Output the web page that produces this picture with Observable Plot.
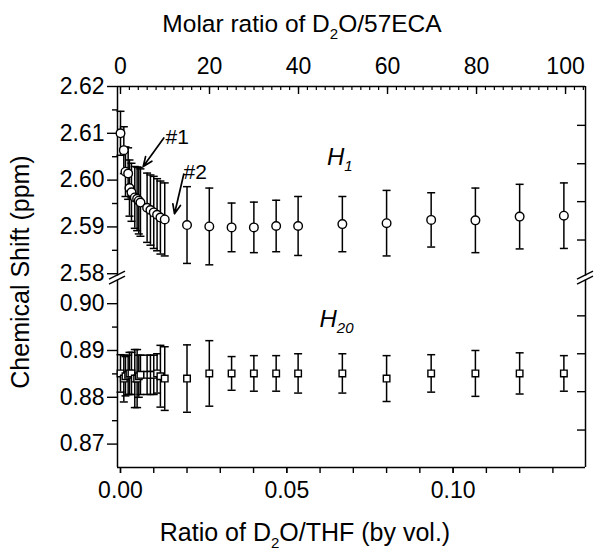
<!DOCTYPE html>
<html><head><meta charset="utf-8">
<script src="https://cdn.jsdelivr.net/npm/d3@7"></script>
<script src="https://cdn.jsdelivr.net/npm/@observablehq/plot@0.6"></script>
<style>
body{margin:0;background:#fff}
svg{font-family:"Liberation Sans",Arial,Helvetica,sans-serif}
</style>
</head><body><div id="chart"></div>
<script>
// ---- data ----
const volRatio = [0.0000,0.0010,0.0015,0.0023,0.0027,0.0033,0.0043,0.0050,0.0055,0.0060,0.0080,0.0090,0.0100,0.0110,0.0120,0.0133,
                  0.0200,0.0267,0.0334,0.0401,0.0468,0.0534,0.0667,0.0800,0.0934,0.1067,0.1200,0.1333];
const h1Shift = [2.6100,2.6064,2.6018,2.6014,2.5983,2.5974,2.5963,2.5960,2.5956,2.5952,2.5941,2.5936,2.5931,2.5926,2.5920,2.5916,
                 2.5904,2.5901,2.5899,2.5899,2.5902,2.5902,2.5906,2.5908,2.5915,2.5914,2.5922,2.5924];
const h1Err = [0.0047,0.0050,0.0053,0.0055,0.0060,0.0062,0.0066,0.0068,0.0071,0.0072,0.0074,0.0075,0.0077,0.0077,0.0078,0.0078,
               0.0082,0.0082,0.0052,0.0054,0.0055,0.0063,0.0059,0.0070,0.0058,0.0069,0.0069,0.0070];
const h20Shift = [0.8851,0.8840,0.8845,0.8848,0.8851,0.8851,0.8840,0.8840,0.8845,0.8848,0.8848,0.8848,0.8848,0.8851,0.8845,0.8840,
                  0.8840,0.8851,0.8851,0.8851,0.8851,0.8851,0.8851,0.8840,0.8851,0.8851,0.8851,0.8851];
const h20Err = [0.0040,0.0050,0.0042,0.0042,0.0045,0.0045,0.0062,0.0062,0.0045,0.0042,0.0042,0.0042,0.0042,0.0042,0.0066,0.0068,
                0.0072,0.0070,0.0036,0.0038,0.0038,0.0042,0.0042,0.0049,0.0040,0.0049,0.0044,0.0038];

// axes / ticks
const molarPerVol = 100 / 0.1338;           // top axis: molar ratio per unit volume ratio
const topMajorTicks = [0, 20, 40, 60, 80, 100];
const topMinorTicks = d3.range(0, 105, 2);
const bottomMajorTicks = [0.00, 0.05, 0.10];
const bottomMinorTicks = d3.range(0, 0.1351, 0.01);
const leftTicksTop = [2.58, 2.59, 2.60, 2.61, 2.62];
const leftTicksBottom = [0.87, 0.88, 0.89, 0.90];
const leftMinorTop = [2.585, 2.595, 2.605, 2.615];
const leftMinorBottom = [0.875, 0.885, 0.895];
const rightTicksTop = [2.6117, 2.6035, 2.5954, 2.5872];
const rightTicksBottom = [0.8974, 0.8893, 0.8812, 0.8730];

// annotations
const annLabels = ["#1", "#2"];
const annTextX = [0.01353, 0.01894];
const annTextY = [2.6091, 2.6016];
const arrowX1 = [0.01302, 0.01903];
const arrowY1 = [2.6090, 2.6013];
const arrowX2 = [0.00683, 0.01624];
const arrowY2 = [2.6029, 2.5928];
const panelMain = ["H", "H"];
const panelSub = ["1", "20"];
const panelX = [0.0661, 0.0651];
const panelY = [2.6031, 0.8949];

// ---- broken-axis layout ----
const offset = 1.6736;                 // lower panel shifted up to stack under upper panel
const topPanel = [2.5795, 2.62];
const bottomPanel = [0.865, 0.905];
const xDomain = [-0.0009, 0.1398];
const yDomain = [bottomPanel[0] + offset, topPanel[1]];
const W = 600, H = 559, mL = 117, mR = 15, mT = 86, mB = 92;
const plotW = W - mL - mR, plotH = H - mT - mB;

const rows = volRatio.map((x, i) => ({
  x, h1: h1Shift[i], e1: h1Err[i], h20: h20Shift[i] + offset, e20: h20Err[i]
}));
const anns = annLabels.map((t, i) => ({t, tx: annTextX[i], ty: annTextY[i], x1: arrowX1[i], y1: arrowY1[i], x2: arrowX2[i], y2: arrowY2[i]}));

const capSymbol = {draw(ctx, size) { const r = Math.sqrt(size / Math.PI); ctx.moveTo(-r, 0); ctx.lineTo(r, 0); }};
const fmtY = d => (d >= topPanel[0] ? d : d - offset).toFixed(2);
const FS = 23;

const plot = Plot.plot({
  width: W, height: H,
  marginLeft: mL, marginRight: mR, marginTop: mT, marginBottom: mB,
  style: {background: "white", color: "black", fontFamily: "Liberation Sans, Arial, sans-serif", fontSize: FS + "px"},
  x: {domain: xDomain, label: null},
  y: {domain: yDomain, label: null},
  marks: [
    // frame
    Plot.ruleY([topPanel[1]], {strokeWidth: 1.5}),
    Plot.ruleY([yDomain[0]], {strokeWidth: 1.5}),
    Plot.ruleX([xDomain[0]], {y1: topPanel[0], y2: topPanel[1], strokeWidth: 1.5}),
    Plot.ruleX([xDomain[0]], {y1: yDomain[0], y2: bottomPanel[1] + offset, strokeWidth: 1.5}),
    Plot.ruleX([xDomain[1]], {y1: topPanel[0], y2: topPanel[1], strokeWidth: 1.5}),
    Plot.ruleX([xDomain[1]], {y1: yDomain[0], y2: bottomPanel[1] + offset, strokeWidth: 1.5}),
    // left axis
    Plot.axisY([...leftTicksTop, ...leftTicksBottom.map(v => v + offset)], {anchor: "left", tickSize: 10, tickPadding: 3, tickFormat: fmtY, fontSize: FS, strokeWidth: 1.4, label: null}),
    Plot.axisY([...leftMinorTop, ...leftMinorBottom.map(v => v + offset)], {anchor: "left", tickSize: 5, tickFormat: () => "", strokeWidth: 1.4, label: null}),
    // right inward ticks
    Plot.ruleY([...rightTicksTop, ...rightTicksBottom.map(v => v + offset)], {insetLeft: plotW - 8, strokeWidth: 1.4}),
    // bottom axis
    Plot.axisX(bottomMajorTicks, {anchor: "bottom", tickSize: 6, tickPadding: 8, tickFormat: d => d.toFixed(2), fontSize: FS, strokeWidth: 1.4, label: null}),
    Plot.axisX(bottomMinorTicks, {anchor: "bottom", tickSize: 6, tickFormat: () => "", strokeWidth: 1.4, label: null}),
    // top axis
    Plot.axisX(topMajorTicks.map(m => m / molarPerVol), {anchor: "top", tickSize: 0, tickPadding: 13, tickFormat: d => Math.round(d * molarPerVol), fontSize: FS, label: null}),
    Plot.ruleX(topMajorTicks.map(m => m / molarPerVol), {insetBottom: plotH - 8, strokeWidth: 1.4}),
    Plot.ruleX(topMinorTicks.map(m => m / molarPerVol), {insetBottom: plotH - 4, strokeWidth: 1.2}),
    // error bars H1
    Plot.ruleX(rows, {x: "x", y1: d => d.h1 - d.e1, y2: d => d.h1 + d.e1, strokeWidth: 1.5}),
    Plot.dot(rows, {x: "x", y: d => d.h1 + d.e1, symbol: capSymbol, r: 4, stroke: "black", strokeWidth: 1.5}),
    Plot.dot(rows, {x: "x", y: d => d.h1 - d.e1, symbol: capSymbol, r: 4, stroke: "black", strokeWidth: 1.5}),
    // error bars H20
    Plot.ruleX(rows, {x: "x", y1: d => d.h20 - d.e20, y2: d => d.h20 + d.e20, strokeWidth: 1.5}),
    Plot.dot(rows, {x: "x", y: d => d.h20 + d.e20, symbol: capSymbol, r: 4, stroke: "black", strokeWidth: 1.5}),
    Plot.dot(rows, {x: "x", y: d => d.h20 - d.e20, symbol: capSymbol, r: 4, stroke: "black", strokeWidth: 1.5}),
    // markers
    Plot.dot(rows, {x: "x", y: "h1", r: 4.3, fill: "white", stroke: "black", strokeWidth: 1.4}),
    Plot.dot(rows, {x: "x", y: "h20", symbol: "square", r: 3.7, fill: "white", stroke: "black", strokeWidth: 1.4}),
    // annotations
    Plot.arrow(anns, {x1: "x1", y1: "y1", x2: "x2", y2: "y2", strokeWidth: 1.7, headLength: 9, headAngle: 45}),
    Plot.text(anns, {x: "tx", y: "ty", text: "t", textAnchor: "start", lineAnchor: "bottom", dy: 0.29 * 21, fontSize: 21})
  ]
});

document.getElementById("chart").appendChild(plot);

// decorations using the plot's scales
const sx = plot.scale("x"), sy = plot.scale("y");
const X = v => sx.apply ? sx.apply(v) : d3.scaleLinear(sx.domain, sx.range)(v);
const Y = v => sy.apply ? sy.apply(v) : d3.scaleLinear(sy.domain, sy.range)(v);
const svg = d3.select(plot);

// axis break marks
const yB = (Y(topPanel[0]) + Y(bottomPanel[1] + offset)) / 2;
for (const xe of [X(xDomain[0]), X(xDomain[1])]) {
  for (const o of [-2.5, 2.5]) {
    svg.append("line").attr("x1", xe - 8).attr("y1", yB + o + 4).attr("x2", xe + 8).attr("y2", yB + o - 4)
      .attr("stroke", "black").attr("stroke-width", 1.5);
  }
}

// panel labels (italic with subscripts)
panelMain.forEach((m, i) => {
  const t = svg.append("text")
    .attr("x", X(panelX[i])).attr("y", Y(i === 0 ? panelY[i] : panelY[i] + offset))
    .attr("font-size", 24).attr("font-style", "italic").attr("fill", "black");
  t.append("tspan").text(m);
  t.append("tspan").attr("font-size", 15).attr("dy", 6).text(panelSub[i]);
});

// titles with subscript 2
function title(parts, x, y, size, rotate) {
  const t = svg.append("text").attr("font-size", size).attr("fill", "black").attr("text-anchor", "middle");
  if (rotate) t.attr("transform", `translate(${x},${y}) rotate(-90)`);
  else t.attr("x", x).attr("y", y);
  parts.forEach(([s, sub]) => {
    t.append("tspan").attr("font-size", sub ? 15 : size).attr("dy", sub ? 7 : (sub === false ? -7 : 0)).text(s);
  });
}
title([["Molar ratio of D"], ["2", true], ["O/57ECA", false]], 302, 32, 24.5);
title([["Ratio of D"], ["2", true], ["O/THF (by vol.)", false]], 305, 541, 25);
title([["Chemical Shift (ppm)"]], 29, 272, 25, true);
</script>
</body></html>
